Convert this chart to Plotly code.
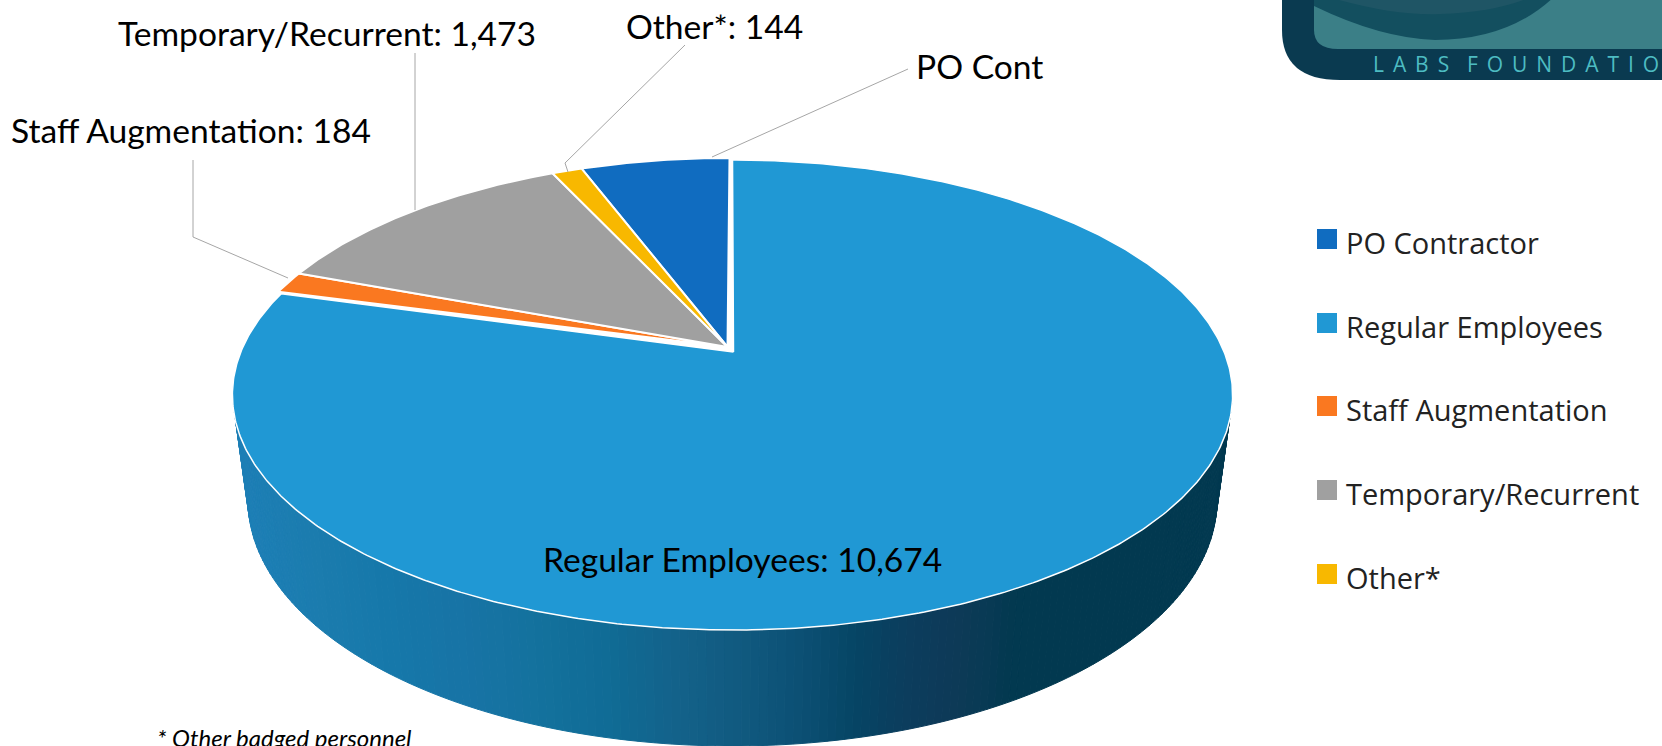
import math
import plotly.graph_objects as go

# ---- data ----
categories = ["PO Contractor", "Regular Employees", "Staff Augmentation", "Temporary/Recurrent", "Other*"]
values = [740, 10674, 184, 1473, 144]
colors = ["#106CC0", "#2098D4", "#FA7820", "#A0A0A0", "#F8B800"]
slice_labels = ["PO Cont", "Regular Employees: 10,674", "Staff Augmentation: 184",
                "Temporary/Recurrent: 1,473", "Other*: 144"]
footnote = "* Other badged personnel"
GAP = "\u00a0\u2009"
logo_text = GAP.join(list("LABS")) + GAP * 2 + GAP.join(list("FOUNDATION"))

# ---- page geometry of the tilted disc ----
W, H = 1662, 746
CX = 732.5
APEX_Y, BACK_Y, FRONT_Y = 348.0, 160.0, 630.0
PERSP = -0.2
SLOPE = 156.0
HALF_W = 490.0
SKEW = 7.0
BOTTOM = dict(cx=732.5, cy=500.0, rx=484.5, ry=246.0)
TOP = dict(cx=732.5, cy=395.0, rx=499.5, ry=235.0)
FONT = "Lato"


def rim(t_deg, dx=0.0, dy=0.0):
    """Clockwise angle from 12 o'clock -> page point on the perspective rim."""
    t = t_deg - SKEW * math.sin(math.radians(t_deg)) ** 2
    u, v = math.sin(math.radians(t)), -math.cos(math.radians(t))
    w = 1 + PERSP * v
    return CX + HALF_W * u / w + dx, (SLOPE * v + APEX_Y) / w + dy


def wedge(t0, t1, apex, dx=0.0, dy=0.0):
    n = max(2, int(abs(t1 - t0) * 2))
    pts = [rim(t0 + (t1 - t0) * i / n, dx, dy) for i in range(n + 1)]
    return [apex[0]] + [p[0] for p in pts] + [apex[0]], [apex[1]] + [p[1] for p in pts] + [apex[1]]


fig = go.Figure()

# ---- side wall: vertical shaded strips, colour taken from page x ----
wall_x = [233, 330, 400, 470, 540, 610, 680, 740, 800, 850, 900, 950, 985, 1010, 1232]
wall_rgb = [(30, 128, 184), (27, 124, 174), (22, 120, 170), (24, 116, 166), (20, 114, 158), (16, 108, 150),
            (20, 98, 138), (17, 90, 128), (12, 80, 116), (6, 70, 102), (12, 62, 94), (14, 58, 88),
            (8, 58, 84), (2, 57, 80), (2, 57, 80)]


def wall_colour(x):
    for i in range(len(wall_x) - 1):
        if x <= wall_x[i + 1]:
            f = max(0.0, (x - wall_x[i]) / (wall_x[i + 1] - wall_x[i]))
            c = [wall_rgb[i][k] + (wall_rgb[i + 1][k] - wall_rgb[i][k]) * f for k in range(3)]
            return "rgb(%d,%d,%d)" % tuple(c)
    return "rgb(2,57,80)"


def top_pt(a):
    return TOP["cx"] + TOP["rx"] * math.cos(a), TOP["cy"] + TOP["ry"] * math.sin(a)


def bot_pt(a):
    return BOTTOM["cx"] + BOTTOM["rx"] * math.cos(a), BOTTOM["cy"] + BOTTOM["ry"] * math.sin(a)


N = 180
for i in range(N):
    a0 = math.radians(-2 + 184 * i / N)
    a1 = math.radians(-2 + 184 * (i + 1) / N)
    p0, p1, q1, q0 = top_pt(a0), top_pt(a1), bot_pt(a1), bot_pt(a0)
    col = wall_colour((q0[0] + q1[0]) / 2)
    fig.add_trace(go.Scatter(x=[p0[0], p1[0], q1[0], q0[0], p0[0]], y=[p0[1], p1[1], q1[1], q0[1], p0[1]],
                             mode="lines", fill="toself", fillcolor=col, line=dict(color=col, width=1),
                             hoverinfo="skip", showlegend=False))

# ---- top face ----
total = sum(values)
t = -values[0] / total * 360.0
OFFSET = {True: (0.0, 0.0), False: (-3.0, -2.0)}
for name, val, col in zip(categories, values, colors):
    t1 = t + val / total * 360.0
    main = name == "Regular Employees"
    dx, dy = OFFSET[main]
    apex = (CX + 1, APEX_Y + 4) if main else (CX - 5, APEX_Y - 1)
    xs, ys = wedge(t, t1, apex, dx, dy)
    fig.add_trace(go.Scatter(x=xs, y=ys, mode="lines", fill="toself", fillcolor=col,
                             line=dict(color="white", width=2 if not main else 1.5),
                             hoverinfo="skip", showlegend=False, name=name))
    t = t1

# ---- leader lines ----
leader_x = [[415, 415], [685, 565, 568], [908, 712], [193, 193, 288]]
leader_y = [[53, 210], [45, 163, 172], [69, 157], [160, 237, 278]]
for lx, ly in zip(leader_x, leader_y):
    fig.add_trace(go.Scatter(x=lx, y=ly, mode="lines", line=dict(color="#A6A6A6", width=1),
                             hoverinfo="skip", showlegend=False))

# ---- legend, drawn as marker + text rows ----
legend_y = [239, 323, 406, 490, 574]
for name, col, y in zip(categories, colors, legend_y):
    fig.add_trace(go.Scatter(x=[1327], y=[y], mode="markers",
                             marker=dict(symbol="square", size=20, color=col), hoverinfo="skip", showlegend=False))

annotations = []
for name, y in zip(categories, legend_y):
    annotations.append(dict(x=1344, y=y + 3, text=name, showarrow=False, xanchor="left", yanchor="middle",
                            font=dict(family="Open Sans", size=29, color="#222222")))

label_pos = [(979, 66), (742, 559), (190.5, 130), (326.5, 33), (714.5, 26)]
for text, (x, y) in zip(slice_labels, label_pos):
    annotations.append(dict(x=x, y=y, text=text, showarrow=False, xanchor="center", yanchor="middle",
                            font=dict(family=FONT, size=33.6, color="#000000")))

annotations.append(dict(x=155, y=737, text="<i>%s</i>" % footnote, showarrow=False, xanchor="left", yanchor="middle",
                        font=dict(family=FONT, size=24, color="#000000")))
annotations.append(dict(x=1371, y=64, text=logo_text, showarrow=False, xanchor="left", yanchor="middle",
                        font=dict(family="Open Sans", size=21, color="#4DBCC2")))

# ---- logo corner ----
shapes = [
    dict(type="path", path="M 1282 -5 L 1282 30 Q 1282 80 1340 80 L 1670 80 L 1670 -5 Z",
         fillcolor="#0A3A50", line=dict(width=0)),
    dict(type="path", path="M 1314 -5 L 1314 30 Q 1314 49 1338 49 L 1670 49 L 1670 -5 Z",
         fillcolor="#3B7F87", line=dict(width=0)),
    dict(type="path", path="M 1314 -5 L 1314 6 Q 1380 38 1435 40 Q 1510 40 1556 -5 Z",
         fillcolor="#134F5F", line=dict(width=0)),
    dict(type="path", path="M 1322 -5 Q 1390 16 1440 14 Q 1500 12 1535 -5 Z",
         fillcolor="#1F5565", line=dict(width=0)),
]

fig.update_layout(
    width=W, height=H, margin=dict(l=0, r=0, t=0, b=0),
    paper_bgcolor="white", plot_bgcolor="white", showlegend=False,
    xaxis=dict(range=[0, W], visible=False, fixedrange=True),
    yaxis=dict(range=[H, 0], visible=False, fixedrange=True),
    annotations=annotations, shapes=shapes,
)

fig.write_html("out.html", config={"displayModeBar": False},
               post_script="document.body.style.margin='0';document.body.style.overflow='hidden';")
